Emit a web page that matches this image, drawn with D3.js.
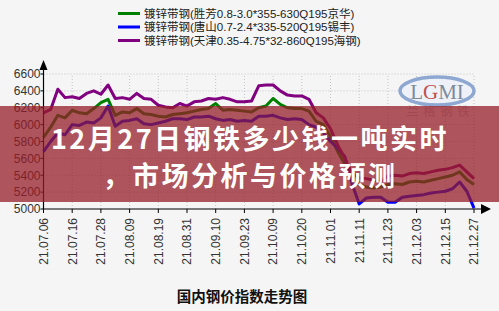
<!DOCTYPE html>
<html>
<head>
<meta charset="utf-8">
<script src="https://cdn.jsdelivr.net/npm/d3@7/dist/d3.min.js"></script>
<style>
  html, body { margin: 0; padding: 0; background: #f5f5f5; }
  svg { display: block; }
</style>
</head>
<body>
<svg id="chart" width="499" height="311"></svg>
<script>
// ---- data (every 2 trading days) ----
const tickLabels = ["21.07.06","21.07.16","21.07.28","21.08.09","21.08.19","21.08.31","21.09.10","21.09.23",
                    "21.10.09","21.10.20","21.11.01","21.11.11","21.11.23","21.12.03","21.12.15","21.12.27"];
const yTicks = [5000,5200,5400,5600,5800,6000,6200,6400,6600];
const seriesNames = ["镀锌带钢(胜芳0.8-3.0*355-630Q195京华)",
                     "镀锌带钢(唐山0.7-2.4*335-520Q195锡丰)",
                     "镀锌带钢(天津0.35-4.75*32-860Q195海钢)"];
const shengfang = [5850,5970,6110,6080,6170,6140,6130,6190,6260,6300,
                   6110,6150,6140,6190,6130,6120,6100,6090,6120,6130,
                   6140,6160,6180,6190,6250,6170,6180,6170,6160,6150,
                   6200,6220,6310,6240,6200,6190,6190,6160,6040,6000,
                   5860,5680,5530,5330,5290,5260,5250,5260,5290,5300,
                   5290,5320,5330,5320,5340,5360,5380,5400,5440,5350,5290];
const tangshan  = [5680,5800,5900,5880,6000,5990,6030,6020,6080,6220,
                   5980,6040,6050,6070,6010,6000,6020,6040,6070,6070,
                   6060,6090,6090,6100,6070,6050,6060,6040,6050,6040,
                   6100,6100,6110,6080,6060,6070,6060,6000,5970,5900,
                   5800,5720,5620,5300,5060,5130,5140,5140,5080,5080,
                   5140,5150,5160,5170,5190,5200,5210,5240,5320,5210,5010];
const tianjin   = [6140,6180,6420,6320,6330,6310,6370,6400,6360,6470,
                   6310,6320,6300,6370,6310,6300,6230,6210,6200,6250,
                   6220,6270,6280,6310,6300,6320,6300,6270,6270,6280,
                   6460,6470,6470,6400,6350,6340,6340,6300,6140,6080,
                   5950,5760,5600,5420,5370,5360,5340,5330,5390,5400,
                   5390,5420,5430,5420,5440,5460,5470,5490,5520,5440,5360];
const colors = ["#008000","#0000ff","#800080"];
const allSeries = [shengfang, tangshan, tianjin];

// ---- layout ----
const svg = d3.select("#chart");
const x = d3.scaleLinear().domain([0, 60]).range([43.5, 474]);
const y = d3.scaleLinear().domain([5000, 6600]).range([209, 74]);

// grid
const grid = svg.append("g").attr("stroke", "#c4c4c4").attr("stroke-dasharray", "1,2").attr("stroke-width", 1);
tickLabels.forEach((t, i) => {
  if (i === 0) return;
  grid.append("line").attr("x1", x(i*4)).attr("x2", x(i*4)).attr("y1", y(5000)).attr("y2", y(6600));
});
yTicks.forEach(v => {
  if (v === 5000) return;
  grid.append("line").attr("x1", x(0)).attr("x2", x(60)).attr("y1", y(v)).attr("y2", y(v));
});

// lines
const line = d3.line().x((d, i) => x(i)).y(d => y(d));
allSeries.forEach((s, k) => {
  svg.append("path").datum(s).attr("d", line)
    .attr("fill", "none").attr("stroke", colors[k]).attr("stroke-width", 3)
    .attr("stroke-linejoin", "round");
});

// logo
const logo = svg.append("g");
logo.append("ellipse").attr("cx", 437).attr("cy", 91).attr("rx", 37).attr("ry", 14)
  .attr("fill", "#eef2f8").attr("stroke", "#8fa8d2").attr("stroke-width", 3.5);
const lt = logo.append("text").attr("x", 437).attr("y", 99).attr("text-anchor", "middle")
  .attr("font-family", "Liberation Serif, serif").attr("font-size", 21).attr("fill", "#7d8a9c");
lt.append("tspan").text("L");
lt.append("tspan").attr("fill", "#c0504d").text("G");
lt.append("tspan").text("MI");
logo.append("text").attr("x", 440).attr("y", 115.5).attr("text-anchor", "middle")
  .attr("font-family", "Liberation Sans, Noto Sans CJK SC").attr("font-size", 12.5).attr("letter-spacing", 4.5)
  .attr("fill", "#999").attr("opacity", 0.55).text("兰格钢铁");

// axes
const ax = svg.append("g");
ax.append("line").attr("x1", x(0)).attr("x2", 482).attr("y1", y(5000)).attr("y2", y(5000))
  .attr("stroke", "#000").attr("stroke-width", 1.2);
ax.append("path").attr("d", `M481,${y(5000)-5}L491,${y(5000)}L481,${y(5000)+5}Z`).attr("fill", "#000");
ax.append("line").attr("x1", x(0)).attr("x2", x(0)).attr("y1", y(5000)).attr("y2", 68)
  .attr("stroke", "#000").attr("stroke-width", 1.2);
ax.append("path").attr("d", `M${x(0)-4},70L${x(0)},60L${x(0)+4},70Z`).attr("fill", "#000");

yTicks.forEach(v => {
  ax.append("line").attr("x1", x(0)-3).attr("x2", x(0)).attr("y1", y(v)).attr("y2", y(v)).attr("stroke", "#000");
  ax.append("text").attr("x", x(0)-3).attr("y", y(v)).attr("dy", "0.36em").attr("text-anchor", "end")
    .attr("font-family", "Liberation Sans, Arial, sans-serif").attr("font-size", 12).attr("fill", "#333").text(v);
});
tickLabels.forEach((t, i) => {
  const xx = x(i*4);
  ax.append("line").attr("x1", xx).attr("x2", xx).attr("y1", y(5000)).attr("y2", y(5000)+4).attr("stroke", "#000");
  ax.append("text").attr("transform", `translate(${xx},${y(5000)+9}) rotate(-90)`)
    .attr("dy", "0.36em").attr("text-anchor", "end")
    .attr("font-family", "Liberation Sans, Arial, sans-serif").attr("font-size", 12).attr("fill", "#333").text(t);
});

// legend
const lg = svg.append("g");
seriesNames.forEach((n, k) => {
  const yy = 13.5 + k*13.5;
  lg.append("line").attr("x1", 118).attr("x2", 140).attr("y1", yy).attr("y2", yy)
    .attr("stroke", colors[k]).attr("stroke-width", 3);
  lg.append("text").attr("x", 144).attr("y", yy).attr("dy", "0.36em")
    .attr("font-family", "Liberation Sans, Noto Sans CJK SC").attr("font-size", 11.5).attr("fill", "#222").text(n);
});

// bottom title
svg.append("text").attr("x", 242).attr("y", 302).attr("text-anchor", "middle")
  .attr("font-family", "Noto Sans CJK SC").attr("font-weight", "bold").attr("font-size", 14.5)
  .attr("fill", "#111").text("国内钢价指数走势图");

// overlay band and headline
svg.append("rect").attr("x", 0).attr("y", 106).attr("width", 499).attr("height", 96)
  .attr("fill", "rgb(150,30,40)").attr("fill-opacity", 0.75);
const hl = svg.append("g").attr("font-family", "Noto Sans CJK SC").attr("font-weight", "bold")
  .attr("fill", "#fff").attr("text-anchor", "middle").attr("font-size", 27).attr("letter-spacing", 2.5);
hl.append("text").attr("x", 250).attr("y", 149).text("12月27日钢铁多少钱一吨实时");
hl.append("text").attr("x", 250).attr("y", 186).text("，市场分析与价格预测");
</script>
</body>
</html>
